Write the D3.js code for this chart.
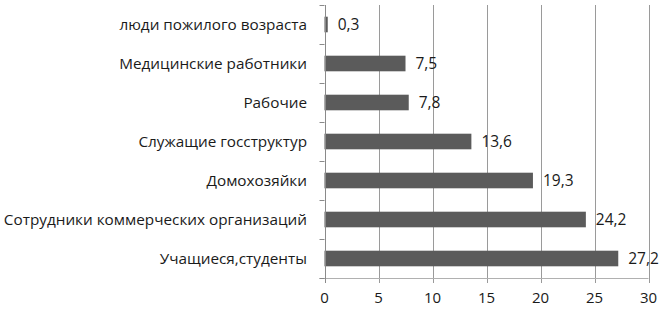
<!DOCTYPE html>
<html><head><meta charset="utf-8">
<script src="https://cdn.jsdelivr.net/npm/d3@7"></script>
<style>body{margin:0;background:#fff}svg{display:block}text{font-family:"Open Sans",sans-serif;fill:#1a1a1a}</style>
</head><body><svg id="c" width="665" height="315"></svg>
<script>
const categories = ["люди пожилого возраста","Медицинские работники","Рабочие","Служащие госструктур","Домохозяйки","Сотрудники коммерческих организаций","Учащиеся,студенты"];
const values = [0.3,7.5,7.8,13.6,19.3,24.2,27.2];
const valueLabels = ["0,3","7,5","7,8","13,6","19,3","24,2","27,2"];
const xTicks = [0,5,10,15,20,25,30];

const svg = d3.select("#c");
const pL = 324.5, pR = 648.5, pT = 5, pB = 278;
const x = d3.scaleLinear().domain([0,30]).range([pL,pR]);
const y = d3.scaleBand().domain(categories).range([pT,pB]).paddingInner(0.6).paddingOuter(0.3);
const yb = d3.scaleBand().domain(categories).range([pT,pB]);

// gridlines
svg.append("g").selectAll("line").data(xTicks.slice(1)).join("line")
  .attr("x1",d=>Math.round(x(d))+0.5).attr("x2",d=>Math.round(x(d))+0.5)
  .attr("y1",pT).attr("y2",pB+5).attr("stroke","#9a9a9a").attr("stroke-width",1);
// bottom line
svg.append("line").attr("x1",pL-5).attr("x2",pR).attr("y1",pB+0.5).attr("y2",pB+0.5)
  .attr("stroke","#b0b0b0");
// bars
svg.append("g").selectAll("rect").data(values).join("rect")
  .attr("x",x(0)).attr("y",(d,i)=>y(categories[i]))
  .attr("width",d=>x(d)-x(0)).attr("height",y.bandwidth()).attr("fill","#5b5b5b");
// left axis
svg.append("line").attr("x1",Math.round(pL)+0.5).attr("x2",Math.round(pL)+0.5).attr("y1",pT).attr("y2",pB+5).attr("stroke","#8a8a8a");
const bounds = categories.map(c=>yb(c)).concat([pB]);
svg.append("g").selectAll("line").data(bounds).join("line")
  .attr("x1",pL-5).attr("x2",pL).attr("y1",d=>Math.round(d)+0.5).attr("y2",d=>Math.round(d)+0.5).attr("stroke","#8a8a8a");
// category labels
svg.append("g").selectAll("text").data(categories).join("text")
  .attr("x",307).attr("y",d=>yb(d)+yb.bandwidth()/2).attr("dy","0.35em")
  .attr("text-anchor","end").attr("font-size",15.3).text(d=>d);
// value labels
svg.append("g").selectAll("text").data(values).join("text")
  .attr("x",d=>x(d)+10).attr("y",(d,i)=>yb(categories[i])+yb.bandwidth()/2).attr("dy","0.35em")
  .attr("font-size",15.5).text((d,i)=>valueLabels[i]);
// x tick labels
svg.append("g").selectAll("text").data(xTicks).join("text")
  .attr("x",d=>x(d)).attr("y",298).attr("dy","0.35em").attr("text-anchor","middle")
  .attr("font-size",15).text(d=>d);
</script></body></html>
